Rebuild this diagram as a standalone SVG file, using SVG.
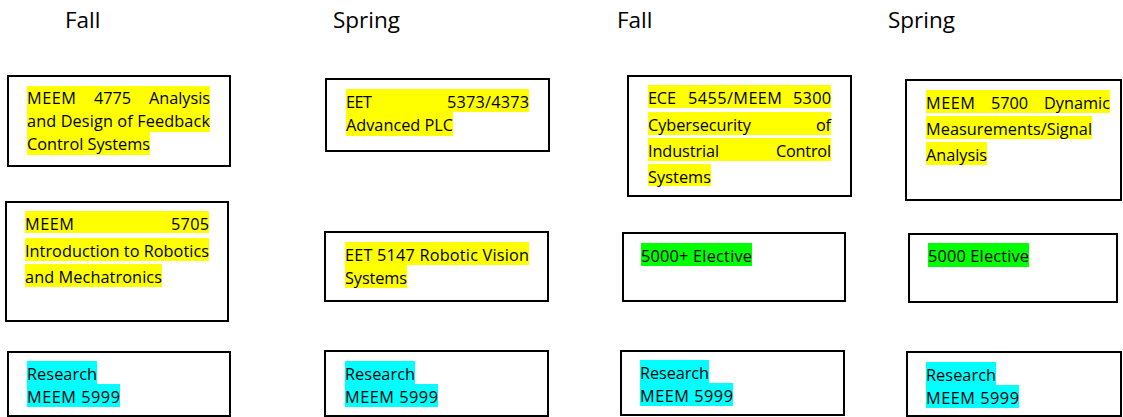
<svg xmlns="http://www.w3.org/2000/svg" width="1123" height="417" viewBox="0 0 1123 417">
<style>
.box{fill:#fff;stroke:#000;stroke-width:2}
.t{font-family:"Open Sans","Noto Sans","DejaVu Sans",sans-serif;font-size:16.3px;fill:#000}
.h{font-family:"Open Sans","Noto Sans","DejaVu Sans",sans-serif;font-size:22.5px;fill:#000}
.y{fill:#ffff00}
.g{fill:#00ff00}
.c{fill:#00ffff}
</style>
<rect width="1123" height="417" fill="#fff"/>
<g id="headers">
<text class="h" x="65" y="28">Fall</text>
<text class="h" x="333" y="28">Spring</text>
<text class="h" x="617" y="28">Fall</text>
<text class="h" x="888" y="28">Spring</text>
</g>
<g id="connectors"></g>
<g id="n1">
<rect class="box" x="8" y="76" width="222" height="90"/>
<rect class="y" x="27" y="86" width="183" height="46"/>
<rect class="y" x="27" y="132" width="123" height="23"/>
<text class="t" x="27" y="104" textLength="49">MEEM</text>
<text class="t" x="94" y="104" textLength="37">4775</text>
<text class="t" x="149" y="104" textLength="61">Analysis</text>
<text class="t" x="27" y="126.5" textLength="183">and Design of Feedback</text>
<text class="t" x="27" y="149.5" textLength="123">Control Systems</text>
</g>
<g id="n2">
<rect class="box" x="326" y="79" width="223" height="72"/>
<rect class="y" x="346" y="89" width="183" height="23"/>
<rect class="y" x="346" y="112" width="107" height="24"/>
<text class="t" x="346" y="107.5" textLength="26">EET</text>
<text class="t" x="447" y="107.5" textLength="82">5373/4373</text>
<text class="t" x="346" y="130.5" textLength="107">Advanced PLC</text>
</g>
<g id="n3">
<rect class="box" x="628" y="76" width="223" height="120"/>
<rect class="y" x="648" y="85" width="183" height="23"/>
<rect class="y" x="648" y="112" width="183" height="23"/>
<rect class="y" x="648" y="138" width="183" height="23"/>
<rect class="y" x="648" y="164" width="63" height="22"/>
<text class="t" x="648" y="103.5" textLength="28">ECE</text>
<text class="t" x="688" y="103.5" textLength="94">5455/MEEM</text>
<text class="t" x="793" y="103.5" textLength="38">5300</text>
<text class="t" x="648" y="130.5" textLength="103">Cybersecurity</text>
<text class="t" x="816" y="130.5" textLength="15">of</text>
<text class="t" x="648" y="156.5" textLength="71">Industrial</text>
<text class="t" x="776" y="156.5" textLength="55">Control</text>
<text class="t" x="648" y="182.5" textLength="63">Systems</text>
</g>
<g id="n4">
<rect class="box" x="906" y="80" width="215" height="120"/>
<rect class="y" x="926" y="90" width="184" height="23"/>
<rect class="y" x="926" y="116" width="166" height="23"/>
<rect class="y" x="926" y="142" width="61" height="23"/>
<text class="t" x="926" y="108.5" textLength="49">MEEM</text>
<text class="t" x="991" y="108.5" textLength="37">5700</text>
<text class="t" x="1044" y="108.5" textLength="66">Dynamic</text>
<text class="t" x="926" y="134.5" textLength="166">Measurements/Signal</text>
<text class="t" x="926" y="160.5" textLength="61">Analysis</text>
</g>
<g id="n5">
<rect class="box" x="6" y="202" width="222" height="119"/>
<rect class="y" x="25" y="211" width="184" height="22"/>
<rect class="y" x="25" y="238" width="184" height="23"/>
<rect class="y" x="25" y="264" width="137" height="23"/>
<text class="t" x="25" y="229.5" textLength="49">MEEM</text>
<text class="t" x="171" y="229.5" textLength="38">5705</text>
<text class="t" x="25" y="256.5" textLength="184">Introduction to Robotics</text>
<text class="t" x="25" y="282.5" textLength="137">and Mechatronics</text>
</g>
<g id="n6">
<rect class="box" x="325" y="232" width="223" height="69"/>
<rect class="y" x="345" y="242" width="184" height="23"/>
<rect class="y" x="345" y="265" width="62" height="23"/>
<text class="t" x="345" y="260.5" textLength="184">EET 5147 Robotic Vision</text>
<text class="t" x="345" y="283.5" textLength="62">Systems</text>
</g>
<g id="n7">
<rect class="box" x="623" y="233" width="222" height="68"/>
<rect class="g" x="641" y="243" width="111" height="23"/>
<text class="t" x="641" y="261.5" textLength="111">5000+ Elective</text>
</g>
<g id="n8">
<rect class="box" x="909" y="234" width="208" height="68"/>
<rect class="g" x="928" y="243" width="101" height="24"/>
<text class="t" x="928" y="261.5" textLength="101">5000 Elective</text>
</g>
<g id="n9">
<rect class="box" x="8" y="352" width="222" height="64"/>
<rect class="c" x="27" y="361" width="70" height="23"/>
<rect class="c" x="27" y="384" width="93" height="23"/>
<text class="t" x="27" y="379.5" textLength="70">Research</text>
<text class="t" x="27" y="402.5" textLength="93">MEEM 5999</text>
</g>
<g id="n10">
<rect class="box" x="325" y="351" width="223" height="65"/>
<rect class="c" x="345" y="361" width="70" height="23"/>
<rect class="c" x="345" y="384" width="93" height="23"/>
<text class="t" x="345" y="379.5" textLength="70">Research</text>
<text class="t" x="345" y="402.5" textLength="93">MEEM 5999</text>
</g>
<g id="n11">
<rect class="box" x="621" y="351" width="223" height="64"/>
<rect class="c" x="640" y="360" width="69" height="23"/>
<rect class="c" x="640" y="383" width="93" height="23"/>
<text class="t" x="640" y="378.5" textLength="69">Research</text>
<text class="t" x="640" y="401.5" textLength="93">MEEM 5999</text>
</g>
<g id="n12">
<rect class="box" x="907" y="352" width="214" height="64"/>
<rect class="c" x="926" y="362" width="70" height="23"/>
<rect class="c" x="926" y="385" width="93" height="23"/>
<text class="t" x="926" y="380.5" textLength="70">Research</text>
<text class="t" x="926" y="403.5" textLength="93">MEEM 5999</text>
</g>
</svg>
